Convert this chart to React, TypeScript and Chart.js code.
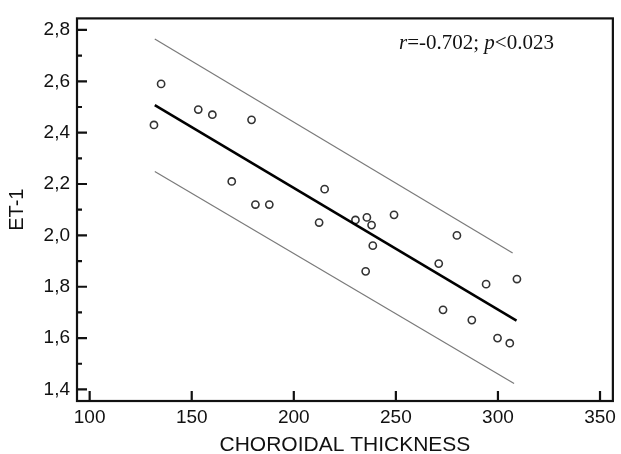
import { useEffect, useRef } from "react";
import { Chart, registerables } from "chart.js";

Chart.register(...registerables);

// Scatter data: choroidal thickness vs ET-1
const thickness = [131.5, 135.0, 153.2, 160.1, 179.3, 169.6, 181.2, 188.0, 212.4, 215.1, 230.2, 235.8, 238.1, 238.7, 235.2, 249.1, 279.9, 271.0, 273.1, 287.2, 294.2, 299.8, 305.8, 309.3];
const et1 = [2.43, 2.59, 2.49, 2.47, 2.45, 2.21, 2.12, 2.12, 2.05, 2.18, 2.06, 2.07, 2.04, 1.96, 1.86, 2.08, 2.0, 1.89, 1.71, 1.67, 1.81, 1.6, 1.58, 1.83];

// Regression line and prediction band end points
const fitX = [131.9, 309.1];
const fitY = [2.507, 1.668];
const upperX = [131.9, 307.2];
const upperY = [2.765, 1.931];
const lowerX = [131.9, 307.9];
const lowerY = [2.249, 1.423];

// Ticks
const xTicks = [100, 150, 200, 250, 300, 350];
const yTicks = [1.4, 1.6, 1.8, 2.0, 2.2, 2.4, 2.6, 2.8];
const yTickLabels = ["1,4", "1,6", "1,8", "2,0", "2,2", "2,4", "2,6", "2,8"];
const yMinorTicks = [1.5, 1.7, 1.9, 2.1, 2.3, 2.5, 2.7];

const xTitle = "CHOROIDAL THICKNESS";
const yTitle = "ET-1";
const statParts = [
  { text: "r", italic: true },
  { text: "=-0.702; ", italic: false },
  { text: "p", italic: true },
  { text: "<0.023", italic: false },
];

const pairs = (xs: number[], ys: number[]) => xs.map((x, i) => ({ x, y: ys[i] }));

const framePlugin = {
  id: "frame",
  afterDatasetsDraw(chart: any) {
    const { ctx, chartArea, scales } = chart;
    const { left, top, right, bottom } = chartArea;
    const x = scales.x;
    const y = scales.y;
    ctx.save();
    ctx.strokeStyle = "#111";
    ctx.lineWidth = 2.2;
    ctx.strokeRect(left, top, right - left, bottom - top);
    ctx.beginPath();
    yTicks.forEach((v) => {
      const py = y.getPixelForValue(v);
      ctx.moveTo(left, py);
      ctx.lineTo(left + 10, py);
    });
    yMinorTicks.forEach((v) => {
      const py = y.getPixelForValue(v);
      ctx.moveTo(left, py);
      ctx.lineTo(left + 5, py);
    });
    xTicks.forEach((v) => {
      const px = x.getPixelForValue(v);
      ctx.moveTo(px, bottom);
      ctx.lineTo(px, bottom - 10);
    });
    ctx.stroke();

    // statistics annotation
    ctx.fillStyle = "#111";
    ctx.textBaseline = "alphabetic";
    ctx.textAlign = "left";
    let cx = 399;
    statParts.forEach((p) => {
      ctx.font = `${p.italic ? "italic " : ""}21px "Liberation Serif", "Times New Roman", serif`;
      ctx.fillText(p.text, cx, 49);
      cx += ctx.measureText(p.text).width;
    });
    ctx.restore();
  },
};

export default function App() {
  const ref = useRef<HTMLCanvasElement | null>(null);

  useEffect(() => {
    if (!ref.current) return;
    const chart = new Chart(ref.current, {
      type: "scatter",
      data: {
        datasets: [
          {
            data: pairs(upperX, upperY),
            showLine: true,
            borderColor: "#7a7a7a",
            borderWidth: 1.2,
            pointRadius: 0,
          },
          {
            data: pairs(lowerX, lowerY),
            showLine: true,
            borderColor: "#7a7a7a",
            borderWidth: 1.2,
            pointRadius: 0,
          },
          {
            data: pairs(fitX, fitY),
            showLine: true,
            borderColor: "#000",
            borderWidth: 2.5,
            pointRadius: 0,
          },
          {
            data: pairs(thickness, et1),
            pointRadius: 3.6,
            pointBorderWidth: 1.6,
            borderColor: "#333",
            backgroundColor: "rgba(255,255,255,0)",
            pointBackgroundColor: "rgba(255,255,255,0)",
            pointBorderColor: "#333",
          },
        ],
      },
      options: {
        animation: false,
        responsive: false,
        devicePixelRatio: 1,
        layout: { padding: { top: 15, right: 4, left: 0, bottom: 0 } },
        plugins: { legend: { display: false }, tooltip: { enabled: false } },
        scales: {
          x: {
            type: "linear",
            min: 93.8,
            max: 356.3,
            grid: { display: false, drawTicks: false },
            border: { display: false },
            afterBuildTicks: (scale: any) => {
              scale.ticks = xTicks.map((v) => ({ value: v }));
            },
            afterFit: (scale: any) => {
              scale.height = 53;
            },
            ticks: {
              padding: 5,
              color: "#111",
              font: { family: '"Liberation Sans", Arial, sans-serif', size: 19 },
              callback: (v: any) => String(v),
            },
            title: {
              display: true,
              text: xTitle,
              color: "#111",
              padding: { top: 0, bottom: 0 },
              font: { family: '"Liberation Sans", Arial, sans-serif', size: 21, lineHeight: 0.8 },
            },
          },
          y: {
            type: "linear",
            min: 1.355,
            max: 2.845,
            grid: { display: false, drawTicks: false },
            border: { display: false },
            afterBuildTicks: (scale: any) => {
              scale.ticks = yTicks.map((v) => ({ value: v }));
            },
            afterFit: (scale: any) => {
              scale.width = 77;
            },
            ticks: {
              padding: 7,
              color: "#111",
              font: { family: '"Liberation Sans", Arial, sans-serif', size: 19 },
              callback: (_v: any, i: number) => yTickLabels[i],
            },
            title: {
              display: true,
              text: yTitle,
              color: "#111",
              padding: { top: 9, bottom: 0 },
              font: { family: '"Liberation Sans", Arial, sans-serif', size: 20, lineHeight: 0.8 },
            },
          },
        },
      },
      plugins: [framePlugin],
    } as any);
    return () => chart.destroy();
  }, []);

  return (
    <div style={{ position: "fixed", left: 0, top: 0, width: 621, height: 454, background: "#fff" }}>
      <canvas ref={ref} width={621} height={454} />
    </div>
  );
}
